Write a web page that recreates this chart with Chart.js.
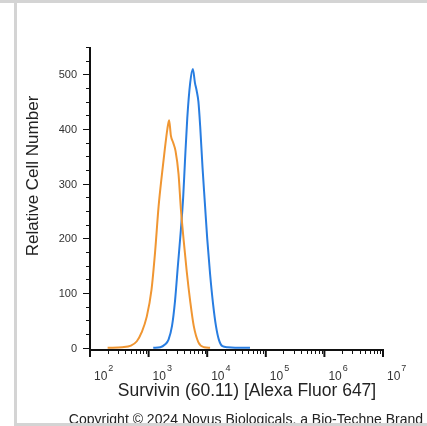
<!DOCTYPE html>
<html>
<head>
<meta charset="utf-8">
<script src="https://cdn.jsdelivr.net/npm/chart.js@4.4.1/dist/chart.umd.min.js"></script>
<style>
  html, body { margin: 0; padding: 0; background: #fff; }
  #wrap { position: relative; width: 427px; height: 426px; }
</style>
</head>
<body>
<div id="wrap"><canvas id="myChart" width="427" height="426"></canvas></div>
<script>
// fluorescence intensity (Alexa Fluor 647) and cell counts
var controlX = [200, 355, 500, 630, 760, 930, 1120, 1290, 1480, 1700, 1900, 2090, 2240, 2400, 2630, 2880, 3240, 3550, 3980, 4470, 5130, 5890, 7080, 8910, 11200];
var controlY = [0, 1, 4, 12, 28, 57, 106, 175, 258, 320, 365, 400, 416, 388, 375, 360, 318, 255, 195, 140, 85, 40, 10, 1, 0];

var survivinX = [1200, 1580, 1900, 2190, 2510, 2820, 3160, 3550, 3890, 4170, 4570, 5130, 5690, 6170, 6610, 7080, 7590, 8320, 9120, 10000, 11200, 12600, 14100, 15800, 18200, 22400, 39800, 53700];
var survivinY = [0, 1, 6, 15, 40, 85, 150, 215, 275, 340, 420, 485, 510, 485, 470, 450, 405, 330, 265, 200, 135, 80, 40, 15, 3, 1, 0, 0];

var yTicks = [0, 100, 200, 300, 400, 500];
var xDecades = [2, 3, 4, 5, 6, 7];

function toPoints(xs, ys) {
    return xs.map(function (x, i) { return { x: x, y: ys[i] }; });
}

var FONT = '"Liberation Sans", Arial, sans-serif';

// axes, ticks, labels and the frame are drawn here from the chart's scales
var axisPlugin = {
    id: 'axisPlugin',
    beforeDraw: function (chart) {
        var c = chart.ctx;
        c.save();
        c.fillStyle = '#fff';
        c.fillRect(0, 0, chart.width, chart.height);
        c.restore();
    },
    afterDraw: function (chart) {
        var c = chart.ctx;
        var xs = chart.scales.x, ys = chart.scales.y;
        var left = xs.getPixelForValue(100);
        var right = xs.getPixelForValue(1e7);
        var bottom = ys.getPixelForValue(ys.min);
        var top = ys.getPixelForValue(550);
        c.save();
        c.strokeStyle = '#111';
        c.lineWidth = 2;
        c.beginPath();
        c.moveTo(left, top);
        c.lineTo(left, bottom);
        c.moveTo(left - 1, bottom);
        c.lineTo(right + 1, bottom);
        c.stroke();

        // y ticks, every 25
        c.lineWidth = 1;
        for (var v = 0; v <= 550; v += 25) {
            var py = Math.round(ys.getPixelForValue(v)) + 0.5;
            var len = (v % 100 === 0) ? 7 : 4;
            c.beginPath();
            c.moveTo(left - len, py);
            c.lineTo(left, py);
            c.stroke();
        }
        c.fillStyle = '#333';
        c.font = '11px ' + FONT;
        c.textAlign = 'right';
        c.textBaseline = 'middle';
        yTicks.forEach(function (t) {
            c.fillText(String(t), left - 13, ys.getPixelForValue(t) + 1);
        });

        // x ticks: decades long, 2..9 short
        xDecades.forEach(function (d) {
            var base = Math.pow(10, d);
            var px = xs.getPixelForValue(base);
            c.lineWidth = 2;
            c.beginPath();
            c.moveTo(px, bottom);
            c.lineTo(px, bottom + 7);
            c.stroke();
            if (d < 7) {
                c.lineWidth = 1;
                for (var m = 2; m <= 9; m++) {
                    var mx = Math.round(xs.getPixelForValue(base * m)) + 0.5;
                    c.beginPath();
                    c.moveTo(mx, bottom);
                    c.lineTo(mx, bottom + 4);
                    c.stroke();
                }
            }
            // label 10^d
            c.textAlign = 'left';
            c.textBaseline = 'alphabetic';
            c.font = '12px ' + FONT;
            c.fillText('10', px + 4, bottom + 30);
            var w = c.measureText('10').width;
            c.font = '9px ' + FONT;
            c.fillText(String(d), px + 5 + w, bottom + 21);
        });

        // axis titles
        c.fillStyle = '#222';
        c.font = '17.5px ' + FONT;
        c.textAlign = 'center';
        c.textBaseline = 'middle';
        c.fillText('Survivin (60.11) [Alexa Fluor 647]', 247, 391);

        c.save();
        c.translate(33, 176);
        c.rotate(-Math.PI / 2);
        c.font = '17px ' + FONT;
        c.fillText('Relative Cell Number', 0, 0);
        c.restore();

        c.font = '14px ' + FONT;
        c.textAlign = 'center';
        c.fillText('Copyright \u00a9 2024 Novus Biologicals, a Bio-Techne Brand', 246, 420);

        // grey frame, drawn last so it clips the copyright line like the original
        c.fillStyle = '#d4d4d4';
        c.fillRect(0, 0, chart.width, 3);
        c.fillRect(14, 0, 3, chart.height);
        c.fillRect(14, 423, chart.width - 14, 3);
        c.restore();
    }
};

var ctx = document.getElementById('myChart').getContext('2d');
var myChart = new Chart(ctx, {
    type: 'line',
    data: {
        datasets: [{
            label: 'Control',
            data: toPoints(controlX, controlY),
            borderColor: 'rgb(240, 150, 50)',
            borderWidth: 2,
            pointRadius: 0,
            fill: false,
            cubicInterpolationMode: 'monotone'
        }, {
            label: 'Survivin',
            data: toPoints(survivinX, survivinY),
            borderColor: 'rgb(40, 125, 225)',
            borderWidth: 2,
            pointRadius: 0,
            fill: false,
            cubicInterpolationMode: 'monotone'
        }]
    },
    options: {
        responsive: false,
        animation: false,
        events: [],
        layout: { padding: { left: 90, right: 44, top: 47, bottom: 76 } },
        plugins: { legend: { display: false }, tooltip: { enabled: false } },
        scales: {
            x: { type: 'logarithmic', min: 100, max: 1e7, display: false },
            y: { type: 'linear', min: -4, max: 550, display: false }
        }
    },
    plugins: [axisPlugin]
});
</script>
</body>
</html>
